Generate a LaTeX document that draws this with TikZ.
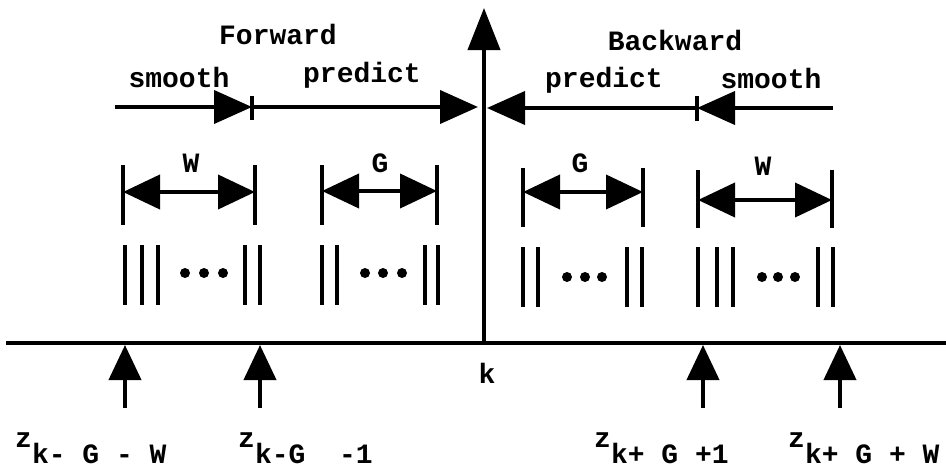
\documentclass[tikz,border=0pt]{standalone}
\usepackage{fontspec}
\setmonofont{Liberation Mono}
\usetikzlibrary{arrows.meta}
\begin{document}
\begin{tikzpicture}[x=1pt,y=-1pt,
  ln/.style={line width=4pt},
  bar/.style={line width=4pt},
  tipfw/.style={-{Triangle[length=38pt,width=33pt]}},
  tipbo/.style={{Triangle[length=37pt,width=34pt]}-{Triangle[length=37pt,width=34pt]}},
  lbl/.style={font=\ttfamily\bfseries\fontsize{28}{30}\selectfont, inner sep=0pt, anchor=base},
  dotm/.style={circle, fill=black, inner sep=0pt, minimum size=10pt},
]
\useasboundingbox (0,0) rectangle (946,471);

% axes
\coordinate (hl) at (6,343);
\coordinate (hr) at (946,343);
\coordinate (k0) at (484,343);
\coordinate (ktop) at (484,8);
\draw[ln] (hl) -- (hr);
\draw[ln,-{Triangle[length=42pt,width=32pt]}] (k0) -- (ktop);
\node[lbl] (k) at (487,383) {k};

% forward
\coordinate (fs) at (115,107);
\coordinate (fm) at (252,107);
\coordinate (fe) at (478,107);
\draw[ln,tipfw] (fs) -- (fm);
\draw[ln,tipfw] (fm) -- (fe);
\draw[bar] ([yshift=-13pt]fm) -- ([yshift=11pt]fm);
\node[lbl] (fwd) at (278,45) {Forward};
\node[lbl] (fsm) at (179,87) {smooth};
\node[lbl] (fpr) at (362,82) {predict};

% backward
\coordinate (bs) at (833,108);
\coordinate (bm) at (697,108);
\coordinate (be) at (487,108);
\draw[ln,tipfw] (bs) -- (bm);
\draw[ln,tipfw] (bm) -- (be);
\draw[bar] ([yshift=-13pt]bm) -- ([yshift=12pt]bm);
\node[lbl] (bwd) at (675,50) {Backward};
\node[lbl] (bpr) at (604,87) {predict};
\node[lbl] (bsm) at (771,88) {smooth};

% dimension W left
\coordinate (wl1) at (123,192); \coordinate (wl2) at (255,192);
\draw[bar] (123,165) -- (123,225);
\draw[bar] (255,165) -- (255,225);
\draw[ln,tipbo] (wl1) -- (wl2);
\node[lbl] (wlab) at (191,172) {W};
% dimension G left
\coordinate (gl1) at (322,191); \coordinate (gl2) at (437,191);
\draw[bar] (322,165) -- (322,225);
\draw[bar] (437,165) -- (437,225);
\draw[ln,tipbo] (gl1) -- (gl2);
\node[lbl] (glab) at (380,172) {G};
% dimension G right
\coordinate (gr1) at (523,192); \coordinate (gr2) at (643,192);
\draw[bar] (523,168) -- (523,227);
\draw[bar] (643,168) -- (643,227);
\draw[ln,tipbo] (gr1) -- (gr2);
\node[lbl] (grlab) at (580,172) {G};
% dimension W right
\coordinate (wr1) at (698,200); \coordinate (wr2) at (832,200);
\draw[bar] (698,170) -- (698,228);
\draw[bar] (832,170) -- (832,228);
\draw[ln,tipbo] (wr1) -- (wr2);
\node[lbl] (wrlab) at (763,175) {W};

% sample bars
\foreach \x in {125,142,158,245,260,322,337,425,438}
  \draw[bar] (\x,245) -- (\x,305);
\foreach \x in {185,204,223,365,383,402}
  \node[dotm] at (\x,273) {};
\foreach \x in {523,538,627,642,698,717,733,818,833}
  \draw[bar] (\x,247) -- (\x,307);
\foreach \x in {567,585,602,762,778,795}
  \node[dotm] at (\x,277) {};

% measurement arrows
\foreach \x/\n in {125/m1,260/m2,703/m3,840/m4}{
  \coordinate (\n b) at (\x,408);
  \coordinate (\n t) at (\x,345);
  \draw[ln,-{Triangle[length=35pt,width=32pt]}] (\n b) -- (\n t);
}

% measurement labels
\node[lbl,anchor=base west] (z1) at (15,463) {\raisebox{16pt}{z}k- G - W};
\node[lbl,anchor=base west] (z2) at (238,463) {\raisebox{16pt}{z}k-G\ \ -1};
\node[lbl,anchor=base west] (z3) at (594,463) {\raisebox{16pt}{z}k+ G +1};
\node[lbl,anchor=base west] (z4) at (788,463) {\raisebox{16pt}{z}k+ G + W};
\end{tikzpicture}
\end{document}
